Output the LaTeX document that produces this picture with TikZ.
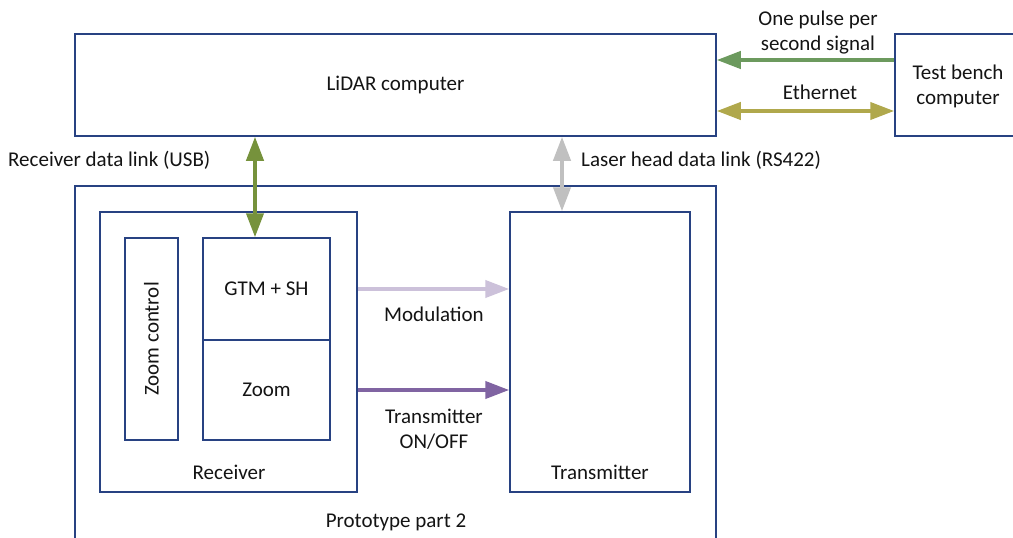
\documentclass[tikz,border=0pt]{standalone}
\usepackage{fontspec}
\setmainfont{Carlito}
\usetikzlibrary{arrows.meta}
\definecolor{boxc}{RGB}{40,66,130}
\definecolor{txt}{RGB}{20,20,20}
\definecolor{usbg}{RGB}{118,146,60}
\definecolor{ppsg}{RGB}{108,154,94}
\definecolor{ethc}{RGB}{176,168,76}
\definecolor{greyc}{RGB}{192,192,192}
\definecolor{modc}{RGB}{204,193,218}
\definecolor{onoffc}{RGB}{128,100,162}
\tikzset{
  box/.style={draw=boxc, line width=1.5pt, fill=white, inner sep=0pt, text=txt},
  lbl/.style={text=txt, inner sep=0pt, align=center},
  conn/.style={line width=4pt, -{Triangle[length=24pt,width=17pt]}},
  dconn/.style={line width=4pt, {Triangle[length=24pt,width=17pt]}-{Triangle[length=24pt,width=17pt]}},
}
\begin{document}
\begin{tikzpicture}[x=1pt,y=-1pt, font=\fontsize{21}{25}\selectfont]
\useasboundingbox (0,0) rectangle (1013,538);
% boxes
\node[box, minimum width=641, minimum height=102] (lidar) at (395.5,85) {LiDAR computer};
\node[box, minimum width=126, minimum height=102] (bench) at (958,85) {};
\node[lbl] (benchtxt) at (958,86) {Test bench\\computer};
\node[box, minimum width=641, minimum height=370] (proto) at (395.5,371) {};
\node[lbl] (protolbl) at (396,522) {Prototype part 2};
\node[box, minimum width=257, minimum height=280] (receiver) at (228.5,352) {};
\node[lbl] (receiverlbl) at (229,472) {Receiver};
\node[box, minimum width=180, minimum height=280] (transmitter) at (600,352) {};
\node[lbl] (transmitterlbl) at (600,472) {Transmitter};
\node[box, minimum width=53, minimum height=202] (zoomctl) at (151.5,339) {};
\node[lbl, rotate=90] (zoomctltxt) at (151.5,339) {Zoom control};
\node[box, minimum width=127, minimum height=102] (gtm) at (266.5,289) {GTM + SH};
\node[box, minimum width=127, minimum height=100] (zoom) at (266.5,390) {Zoom};
% helper coordinates
\coordinate (usbx) at (255,0);
\coordinate (laserx) at (562,0);
\coordinate (ppsy) at (0,60);
\coordinate (ethy) at (0,111);
% connectors
\draw[dconn, usbg] (lidar.south -| usbx) -- (gtm.north -| usbx);
\draw[dconn, greyc] (lidar.south -| laserx) -- (transmitter.north -| laserx);
\draw[conn, modc] (receiver.east |- gtm) -- (transmitter.west |- gtm);
\draw[conn, onoffc] (receiver.east |- zoom) -- (transmitter.west |- zoom);
\draw[conn, ppsg] (bench.west |- ppsy) -- (lidar.east |- ppsy);
\draw[dconn, ethc] (lidar.east |- ethy) -- (bench.west |- ethy);
% labels
\node[lbl] (ppslbl) at (818,33) {One pulse per\\second signal};
\node[lbl] (ethlbl) at (820,92) {Ethernet};
\node[lbl, anchor=west] (usblbl) at (8,160) {Receiver data link (USB)};
\node[lbl, anchor=west] (laserlbl) at (581,160) {Laser head data link (RS422)};
\node[lbl] (modlbl) at (434,314) {Modulation};
\node[lbl] (onofflbl) at (434,429) {Transmitter\\ON/OFF};
\end{tikzpicture}
\end{document}
